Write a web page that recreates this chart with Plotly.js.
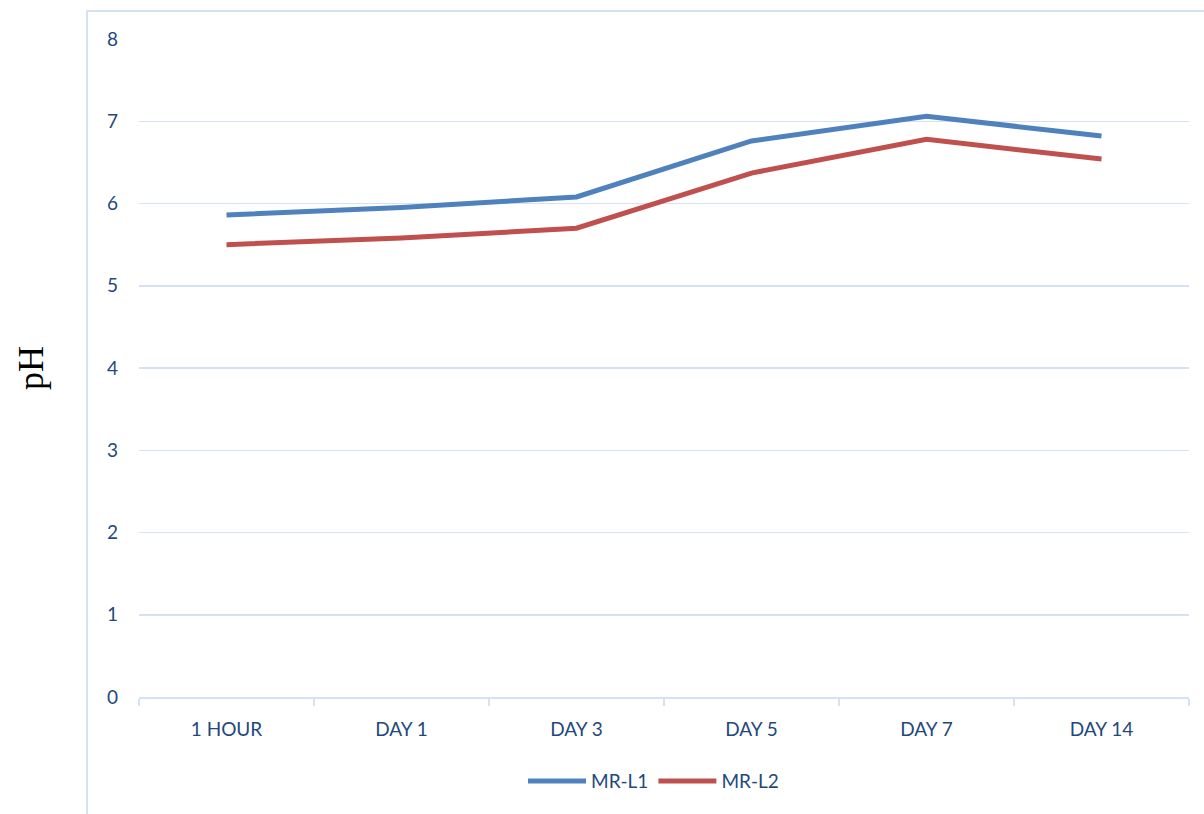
<!DOCTYPE html>
<html>
<head>
<meta charset="utf-8">
<script src="https://cdn.plot.ly/plotly-3.0.1.min.js"></script>
<style>html,body{margin:0;padding:0;background:#fff;}#chart{width:1204px;height:814px;}</style>
</head>
<body>
<div id="chart"></div>
<script>
const categories = ["1 HOUR", "DAY 1", "DAY 3", "DAY 5", "DAY 7", "DAY 14"];
const mrL1 = [5.86, 5.95, 6.08, 6.76, 7.06, 6.82];
const mrL2 = [5.50, 5.58, 5.70, 6.37, 6.78, 6.54];
const seriesNames = ["MR-L1", "MR-L2"];
const yTicks = [0, 1, 2, 3, 4, 5, 6, 7, 8];

const textColor = "#1f497d";
const gridColor = "#d6e2f2";
const tickFont = {family: "Lato, 'Open Sans', sans-serif", size: 19, color: textColor};

const traces = [
  {x: categories, y: mrL1, name: seriesNames[0], type: "scatter", mode: "lines",
   line: {color: "#4f81bd", width: 5}},
  {x: categories, y: mrL2, name: seriesNames[1], type: "scatter", mode: "lines",
   line: {color: "#c0504d", width: 5}}
];

const layout = {
  width: 1204, height: 814,
  margin: {l: 139, r: 15, t: 39, b: 117},
  paper_bgcolor: "#fff", plot_bgcolor: "#fff",
  showlegend: true,
  legend: {orientation: "h", x: 0.49, xanchor: "center", y: -0.128, yanchor: "middle",
           font: tickFont, itemwidth: 58, tracegroupgap: 0},
  xaxis: {
    type: "category", tickson: "boundaries", ticks: "outside", ticklen: 7, tickcolor: gridColor, tickwidth: 1.5,
    showline: true, linecolor: gridColor, linewidth: 1.5, showgrid: false,
    tickfont: tickFont, ticklabelstandoff: 15, range: [-0.5, 5.5]
  },
  yaxis: {
    range: [0, 8], tickvals: yTicks, ticktext: yTicks.map(String),
    showgrid: true, gridcolor: gridColor, gridwidth: 1.5, zeroline: false,
    showline: false, ticks: "", tickfont: tickFont, ticklabelstandoff: 20,
    title: {text: "pH", font: {family: "'Liberation Serif', 'DejaVu Serif', serif", size: 36, color: "#000"}, standoff: 52}
  },
  shapes: [
    {type: "rect", xref: "paper", yref: "paper", x0: -0.0495, x1: 1.2, y0: -0.5, y1: 1.0426,
     line: {color: gridColor, width: 2}, fillcolor: "rgba(0,0,0,0)", layer: "below"}
  ]
};

Plotly.newPlot("chart", traces, layout, {displayModeBar: false, staticPlot: true});
</script>
</body>
</html>
